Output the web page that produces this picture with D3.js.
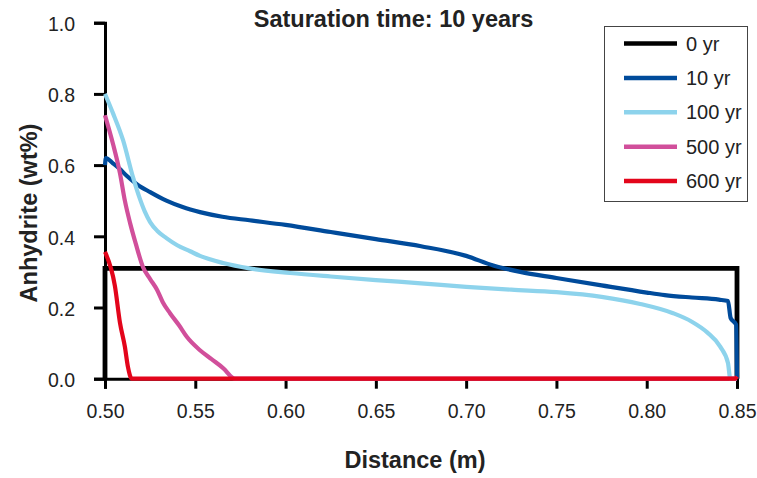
<!DOCTYPE html>
<html>
<head>
<meta charset="utf-8">
<script src="https://cdn.jsdelivr.net/npm/d3@7"></script>
<style>
  body { margin: 0; background: #fff; }
  svg { display: block; font-family: "Liberation Sans", Arial, sans-serif; }
</style>
</head>
<body>
<div id="container"></div>
<script>
// series values: [distance (m), anhydrite (wt%)]
const yr0 = [[0.5, 0], [0.5, 0.31], [0.85, 0.31], [0.85, 0]];
const yr10 = [
    [0.5, 0.60], [0.5005, 0.62], [0.5044, 0.605], [0.508, 0.59], [0.512, 0.57], [0.518, 0.545],
    [0.525, 0.524], [0.534, 0.50], [0.543, 0.482], [0.5526, 0.468], [0.565, 0.455], [0.58, 0.445],
    [0.60, 0.432], [0.625, 0.412], [0.65, 0.392], [0.675, 0.372], [0.70, 0.345], [0.715, 0.318],
    [0.73, 0.30], [0.75, 0.283], [0.775, 0.262], [0.80, 0.242], [0.81, 0.235], [0.825, 0.228],
    [0.84, 0.222], [0.845, 0.218], [0.8465, 0.17], [0.8495, 0.152], [0.85, 0.0]
];
const yr100 = [
    [0.5, 0.80], [0.5044, 0.746], [0.51, 0.67], [0.5155, 0.566], [0.519, 0.51], [0.522, 0.47],
    [0.525, 0.44], [0.529, 0.415], [0.534, 0.395], [0.540, 0.375], [0.5471, 0.358], [0.5526, 0.345],
    [0.5654, 0.325], [0.58, 0.31], [0.6025, 0.297], [0.625, 0.287], [0.65, 0.277], [0.675, 0.268],
    [0.70, 0.258], [0.725, 0.25], [0.75, 0.243], [0.775, 0.23], [0.7964, 0.21], [0.8146, 0.184],
    [0.825, 0.16], [0.8335, 0.13], [0.8407, 0.09], [0.845, 0.044], [0.8463, 0.0], [0.85, 0.0]
];
const yr500 = [
    [0.5, 0.74], [0.5044, 0.66], [0.5083, 0.577], [0.511, 0.50], [0.5139, 0.437], [0.517, 0.38],
    [0.521, 0.314], [0.525, 0.28], [0.5288, 0.25], [0.532, 0.215], [0.536, 0.184], [0.541, 0.15],
    [0.5454, 0.117], [0.5526, 0.08], [0.559, 0.055], [0.5654, 0.03], [0.572, 0.0], [0.85, 0.0]
];
const yr600 = [
    [0.5, 0.356], [0.5055, 0.26], [0.5083, 0.157], [0.511, 0.09], [0.5127, 0.033],
    [0.5148, 0.0], [0.849, 0.0], [0.85, 0.006]
];

const seriesNames = ['0 yr', '10 yr', '100 yr', '500 yr', '600 yr'];
const seriesColors = ['#000000', '#004b9b', '#8dd3ec', '#d14f9b', '#e3051b'];
const seriesData = [yr0, yr10, yr100, yr500, yr600];

const xTicks = [0.50, 0.55, 0.60, 0.65, 0.70, 0.75, 0.80, 0.85];
const yTicks = [0.0, 0.2, 0.4, 0.6, 0.8, 1.0];

const w = 757;
const h = 478;

const svg = d3.select('#container').append('svg')
    .attr('width', w)
    .attr('height', h);

const xScale = d3.scaleLinear()
    .domain([0.5, 0.85])
    .range([105, 737]);

const yScale = d3.scaleLinear()
    .domain([0, 1])
    .range([378.7, 22.7]);

// axes
const xAxis = d3.axisBottom(xScale)
    .tickValues(xTicks)
    .tickSize(10)
    .tickPadding(15)
    .tickFormat(d3.format('.2f'));

const yAxis = d3.axisLeft(yScale)
    .tickValues(yTicks)
    .tickSize(11)
    .tickPadding(19)
    .tickFormat(d3.format('.1f'));

const gx = svg.append('g')
    .attr('transform', 'translate(0,' + yScale(0) + ')')
    .call(xAxis);

const gy = svg.append('g')
    .attr('transform', 'translate(' + xScale(0.5) + ',0)')
    .call(yAxis);

[gx, gy].forEach(g => {
    g.select('.domain').attr('stroke', '#000').attr('stroke-width', 3);
    g.selectAll('.tick line').attr('stroke', '#000').attr('stroke-width', 3);
    g.selectAll('.tick text')
        .attr('fill', '#222')
        .style('font-size', '19.5px');
});
gy.selectAll('.tick text').attr('dy', '0.4em');

// lines
const line = d3.line()
    .x(d => xScale(d[0]))
    .y(d => yScale(d[1]));

const smoothLine = d3.line()
    .curve(d3.curveMonotoneX)
    .x(d => xScale(d[0]))
    .y(d => yScale(d[1]));

svg.selectAll('.series')
    .data(seriesData)
    .enter()
    .append('path')
    .attr('class', 'series')
    .attr('d', (d, i) => i === 0 ? line(d) : smoothLine(d))
    .attr('fill', 'none')
    .attr('stroke', (d, i) => seriesColors[i])
    .attr('stroke-width', (d, i) => i === 0 ? 4.8 : 4.2)
    .attr('stroke-linejoin', 'miter');

// titles
svg.append('text')
    .attr('x', 393.5)
    .attr('y', 26.7)
    .attr('text-anchor', 'middle')
    .attr('fill', '#222')
    .style('font-size', '23.5px')
    .style('font-weight', 'bold')
    .text('Saturation time: 10 years');

svg.append('text')
    .attr('x', 415)
    .attr('y', 468)
    .attr('text-anchor', 'middle')
    .attr('fill', '#222')
    .style('font-size', '23.5px')
    .style('font-weight', 'bold')
    .text('Distance (m)');

svg.append('text')
    .attr('transform', 'translate(37,213) rotate(-90)')
    .attr('text-anchor', 'middle')
    .attr('fill', '#222')
    .style('font-size', '23.5px')
    .style('font-weight', 'bold')
    .text('Anhydrite (wt%)');

// legend
const legend = svg.append('g');

legend.append('rect')
    .attr('x', 604.5)
    .attr('y', 26.5)
    .attr('width', 143)
    .attr('height', 175)
    .attr('fill', '#fff')
    .attr('stroke', '#444')
    .attr('stroke-width', 1);

const legendY = d3.scalePoint()
    .domain(seriesNames)
    .range([43.5, 181]);

const items = legend.selectAll('.item')
    .data(seriesNames)
    .enter()
    .append('g')
    .attr('class', 'item')
    .attr('transform', d => 'translate(0,' + legendY(d) + ')');

items.append('line')
    .attr('x1', 624)
    .attr('x2', 677)
    .attr('stroke', (d, i) => seriesColors[i])
    .attr('stroke-width', 4.5);

items.append('text')
    .attr('x', 686)
    .attr('dy', '0.36em')
    .attr('fill', '#222')
    .style('font-size', '20px')
    .text(d => d);
</script>
</body>
</html>
